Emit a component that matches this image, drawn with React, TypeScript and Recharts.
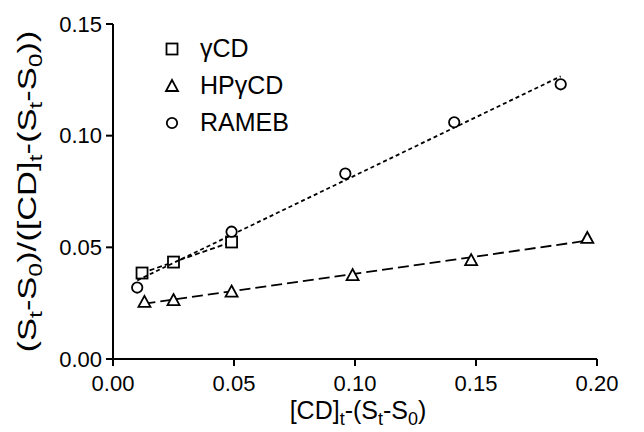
import { ScatterChart, Scatter, XAxis, YAxis } from "recharts";

// values
const gammaX = [0.012, 0.025, 0.049];
const gammaY = [0.0385, 0.0434, 0.0524];
const hpX = [0.013, 0.025, 0.049, 0.099, 0.148, 0.196];
const hpY = [0.0256, 0.0264, 0.0302, 0.0376, 0.0443, 0.0542];
const ramebX = [0.01, 0.049, 0.096, 0.141, 0.185];
const ramebY = [0.032, 0.057, 0.083, 0.106, 0.123];

const xTicks = [0, 0.05, 0.1, 0.15, 0.2];
const yTicks = [0, 0.05, 0.1, 0.15];

const toPoints = (xs: number[], ys: number[]) => xs.map((x, i) => ({ x, y: ys[i] }));

const FONT = "'Liberation Sans', Arial, sans-serif";

const series = [
  { name: "γCD", shape: "square", data: toPoints(gammaX, gammaY), dash: "5 3" },
  { name: "HPγCD", shape: "triangle", data: toPoints(hpX, hpY), dash: "11 5" },
  { name: "RAMEB", shape: "circle", data: toPoints(ramebX, ramebY), dash: "4 3" },
];

const Marker = ({ cx, cy, kind }: { cx: number; cy: number; kind: string }) => {
  if (kind === "square")
    return <rect x={cx - 5.5} y={cy - 5.5} width={11} height={11} fill="#fff" stroke="#000" strokeWidth={1.8} />;
  if (kind === "triangle")
    return (
      <polygon
        points={`${cx},${cy - 6} ${cx + 6},${cy + 5} ${cx - 6},${cy + 5}`}
        fill="#fff"
        stroke="#000"
        strokeWidth={1.8}
      />
    );
  return <circle cx={cx} cy={cy} r={5.2} fill="#fff" stroke="#000" strokeWidth={1.8} />;
};

const XTitle = ({ viewBox }: any) => {
  const cx = viewBox.x + viewBox.width / 2 + 3;
  const y = viewBox.y + 60;
  return (
    <text x={cx} y={y} textAnchor="middle" fontFamily={FONT} fontSize={25} fill="#000">
      [CD]<tspan dy={6} fontSize={18}>t</tspan>
      <tspan dy={-6}>-(S</tspan>
      <tspan dy={6} fontSize={18}>t</tspan>
      <tspan dy={-6}>-S</tspan>
      <tspan dy={6} fontSize={18}>0</tspan>
      <tspan dy={-6}>)</tspan>
    </text>
  );
};

const YTitle = ({ viewBox }: any) => {
  const x = 36;
  const cy = viewBox.y + viewBox.height / 2;
  return (
    <text
      x={x}
      y={cy}
      textAnchor="middle"
      transform={`rotate(-90, ${x}, ${cy})`}
      fontFamily={FONT}
      fontSize={25}
      fill="#000"
      textLength={322}
      lengthAdjust="spacingAndGlyphs"
    >
      (S<tspan dy={6} fontSize={18}>t</tspan>
      <tspan dy={-6}>-S</tspan>
      <tspan dy={6} fontSize={18}>0</tspan>
      <tspan dy={-6}>)/([CD]</tspan>
      <tspan dy={6} fontSize={18}>t</tspan>
      <tspan dy={-6}>-(S</tspan>
      <tspan dy={6} fontSize={18}>t</tspan>
      <tspan dy={-6}>-S</tspan>
      <tspan dy={6} fontSize={18}>0</tspan>
      <tspan dy={-6}>))</tspan>
    </text>
  );
};

export default function App() {
  return (
    <div style={{ position: "absolute", left: 0, top: 0, width: 644, height: 432, background: "#fff" }}>
      <ScatterChart width={644} height={432} margin={{ top: 24, right: 47, left: 0, bottom: 0 }}>
        <XAxis
          type="number"
          dataKey="x"
          domain={[0, 0.2]}
          ticks={xTicks}
          tickFormatter={(v: number) => v.toFixed(2)}
          height={73}
          stroke="#000"
          strokeWidth={2}
          tickSize={7}
          tickMargin={9}
          tick={{ fill: "#000", fontSize: 22, fontFamily: FONT }}
          allowDataOverflow
          label={{ content: (p: any) => <XTitle viewBox={p.viewBox} /> }}
        />
        <YAxis
          type="number"
          dataKey="y"
          domain={[0, 0.15]}
          ticks={yTicks}
          tickFormatter={(v: number) => v.toFixed(2)}
          width={113}
          stroke="#000"
          strokeWidth={2}
          tickSize={7}
          tickMargin={4}
          tick={{ fill: "#000", fontSize: 22, fontFamily: FONT }}
          allowDataOverflow
          label={{ content: (p: any) => <YTitle viewBox={p.viewBox} /> }}
        />
        {series.map((s) => (
          <Scatter
            key={s.name}
            name={s.name}
            data={s.data}
            shape={(p: any) => <Marker cx={p.cx} cy={p.cy} kind={s.shape} />}
            stroke="#000"
            line={{ stroke: "#000", strokeWidth: 1.8, strokeDasharray: s.dash }}
            lineType="fitting"
            isAnimationActive={false}
          />
        ))}
      </ScatterChart>
      {/* legend */}
      <div
        style={{
          position: "absolute",
          left: 164,
          top: 30,
          fontFamily: FONT,
          fontSize: 25,
          color: "#000",
          lineHeight: "37px",
        }}
      >
        {series.map((s) => (
          <div key={s.name} style={{ display: "flex", alignItems: "center", height: 37 }}>
            <svg width={16} height={16} style={{ display: "block" }}>
              <Marker cx={8} cy={8} kind={s.shape} />
            </svg>
            <span style={{ marginLeft: 20 }}>{s.name}</span>
          </div>
        ))}
      </div>
    </div>
  );
}
